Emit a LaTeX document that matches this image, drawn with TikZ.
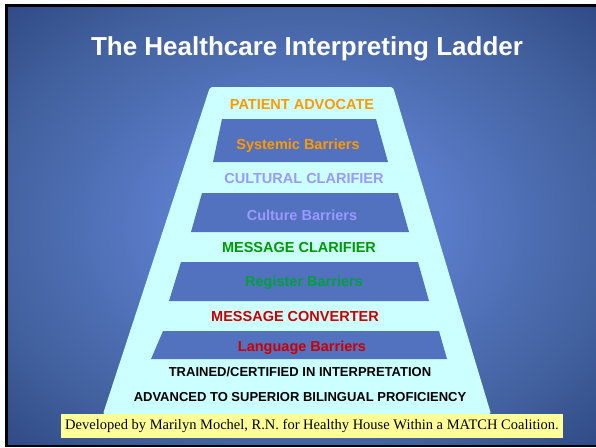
\documentclass[tikz,border=0pt]{standalone}
\usepackage{fontspec}
\setmainfont{Liberation Sans}
\newfontfamily\notefont{Liberation Serif}
\usepackage{xcolor}
\definecolor{slidelight}{HTML}{5A7BC8}
\definecolor{slidemid}{HTML}{41609D}
\definecolor{slidedark}{HTML}{203570}
\definecolor{slidecorner}{HTML}{182A62}
\definecolor{ladderfill}{HTML}{CCFFFF}
\definecolor{gapblue}{HTML}{5272C0}
\definecolor{advocate}{HTML}{FF9900}
\definecolor{cultural}{HTML}{9999FF}
\definecolor{clarifier}{HTML}{009900}
\definecolor{register}{HTML}{00A03C}
\definecolor{converter}{HTML}{CC0000}
\definecolor{notefill}{HTML}{FFFF99}
\pgfdeclareradialshading{slidebg}{\pgfpoint{0bp}{0bp}}{%
  color(0bp)=(slidelight); color(12bp)=(slidelight);
  color(27bp)=(slidemid); color(44bp)=(slidedark); color(50bp)=(slidedark);
  color(71bp)=(slidecorner)}
\tikzset{
    tnode/.style = {align=center, inner sep=0pt, text depth=0pt},
    title/.style = {tnode, white, text height=18.6pt, font=\bfseries\fontsize{26}{30}\selectfont},
    rung/.style = {tnode, text height=10.4pt, font=\bfseries\fontsize{14.5}{17}\selectfont},
    basic/.style = {tnode, black, text height=9.3pt, font=\bfseries\fontsize{13}{15}\selectfont},
    gap/.style = {fill=gapblue, draw=none},
    note/.style = {fill=notefill, inner sep=0pt, minimum width=502pt, minimum height=24pt, font=\notefont\fontsize{14.5}{16}\selectfont}
}
\begin{document}
\begin{tikzpicture}[x=1pt, y=-1pt]
\useasboundingbox (0,0) rectangle (596,447);
\fill[white] (0,0) rectangle (596,447);
\fill[black] (5,4) rectangle (596,447);
\shade[shading=slidebg] (8,7) rectangle (596,444);

\node[title] (title) at (307,46) {The Healthcare Interpreting Ladder};

% ladder and the gaps between its steps
\fill[ladderfill, rounded corners=2pt] (210,87) -- (393,87) -- (491,414) -- (103,414) -- cycle;
\fill[gap] (222,119) -- (376,119) -- (388,162) -- (213,162) -- cycle;
\fill[gap] (202,193) -- (398,193) -- (409,232) -- (191,232) -- cycle;
\fill[gap] (181,262) -- (418,262) -- (429,301) -- (169,301) -- cycle;
\fill[gap] (163,331) -- (439,331) -- (447,359) -- (151,359) -- cycle;

\node[rung, advocate] (advocate) at (302,104) {PATIENT ADVOCATE};
\node[rung, advocate] (systemic) at (298,144) {Systemic Barriers};
\node[rung, cultural] (cultural) at (304,178) {CULTURAL CLARIFIER};
\node[rung, cultural] (culture) at (302,215) {Culture Barriers};
\node[rung, clarifier] (clarifier) at (299,247) {MESSAGE CLARIFIER};
\node[rung, register] (register) at (304,281) {Register Barriers};
\node[rung, converter] (converter) at (295,316) {MESSAGE CONVERTER};
\node[rung, converter] (language) at (302,346) {Language Barriers};
\node[basic] (trained) at (300,372) {TRAINED/CERTIFIED IN INTERPRETATION};
\node[basic] (advanced) at (300,397) {ADVANCED TO SUPERIOR BILINGUAL PROFICIENCY};

\node[note] (credit) at (312,426) {Developed by Marilyn Mochel, R.N. for Healthy House Within a MATCH Coalition.};
\end{tikzpicture}
\end{document}
